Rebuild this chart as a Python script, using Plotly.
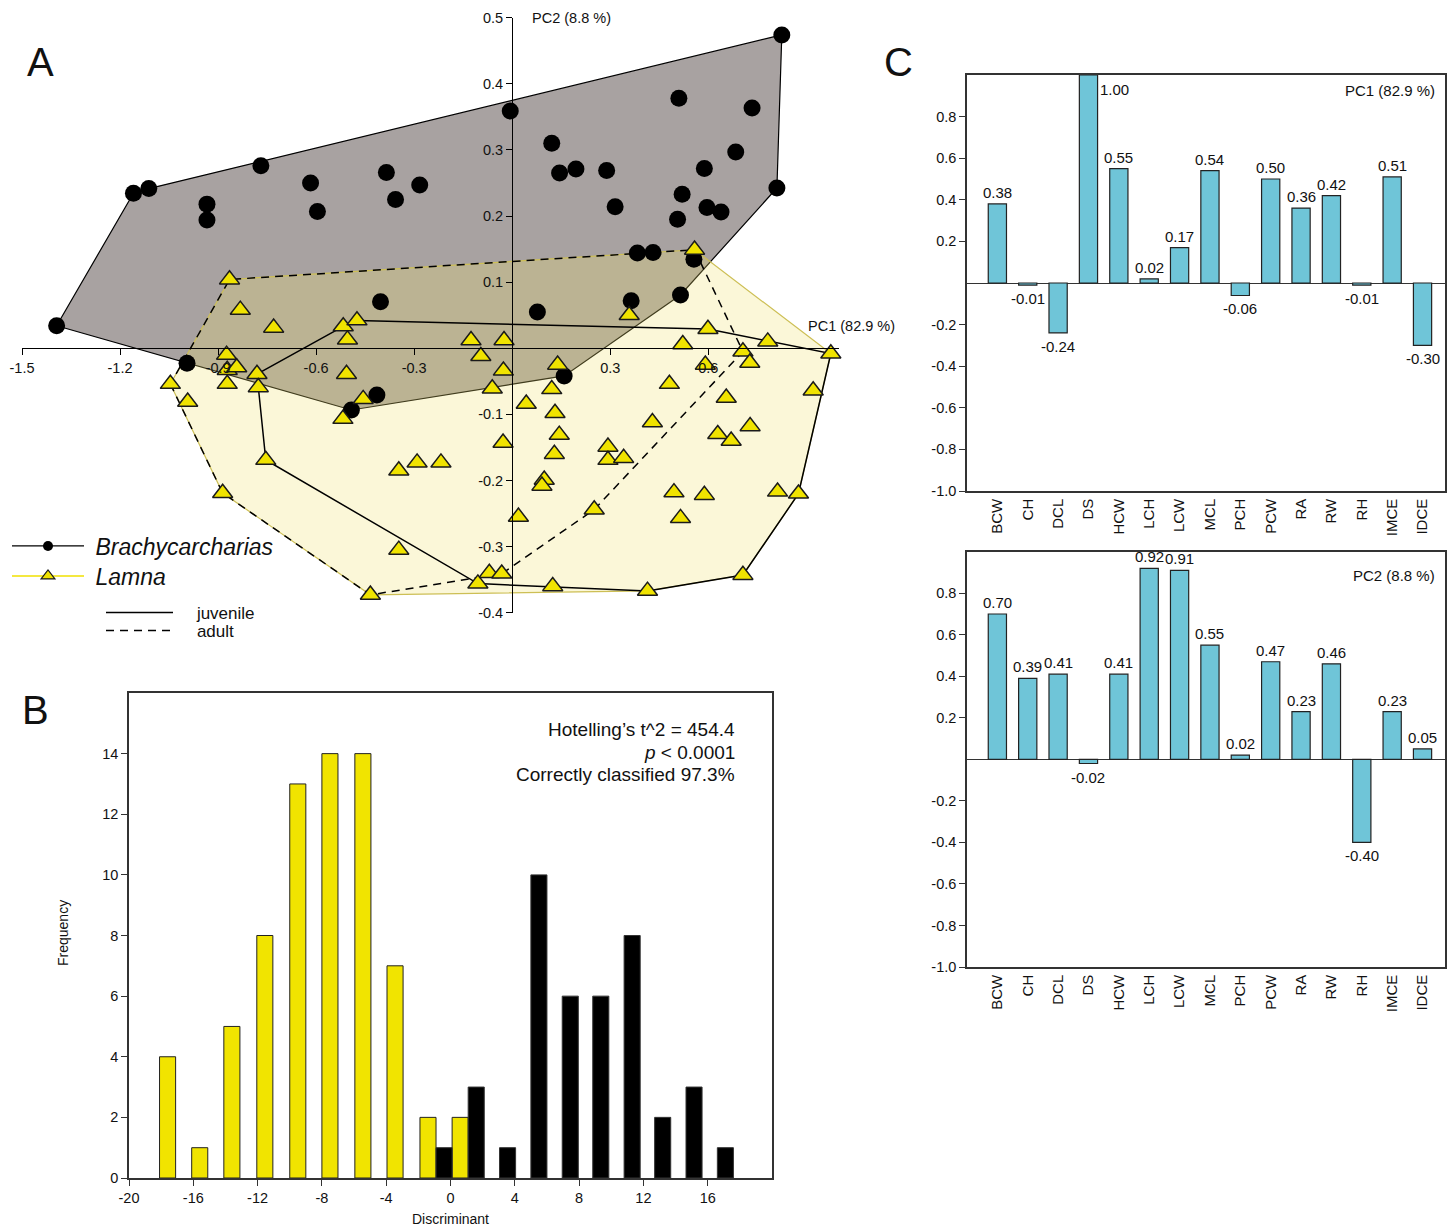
import plotly.graph_objects as go

FW, FH = 1453, 1228
FONT = "Liberation Sans, Arial, sans-serif"

# ---------------- Panel A : PCA scores ----------------
brachy_pc1 = [-1.394, -1.159, -1.112, -0.769, -0.934, -0.934, -0.617, -0.596, -0.385, -0.357,
              -0.283, -0.006, -0.403, 0.825, 0.510, 0.734, 0.121, 0.145, 0.195, 0.289,
              0.315, 0.684, 0.588, 0.520, 0.506, 0.596, 0.639, 0.810, 0.383, 0.431,
              0.556, 0.515, 0.364, 0.077, -0.995, -0.414, -0.492, 0.159]
brachy_pc2 = [0.034, 0.2345, 0.2415, 0.276, 0.218, 0.194, 0.250, 0.207, 0.266, 0.225,
              0.247, 0.359, 0.0705, 0.474, 0.378, 0.3635, 0.310, 0.265, 0.271, 0.269,
              0.214, 0.297, 0.272, 0.233, 0.195, 0.213, 0.206, 0.2425, 0.144, 0.145,
              0.1346, 0.0806, 0.072, 0.055, -0.0227, -0.0707, -0.0934, -0.0419]

lamna_pc1 = [-0.865, -0.832, -0.730, -0.517, -0.475, -0.504, -0.126, -0.096, -0.025, -0.027,
             -0.061, -1.046, -0.993, -0.874, -0.872, -0.843, -0.872, -0.781, -0.777, -0.507,
             -0.456, -0.518, -0.754, -0.347, -0.291, -0.218, -0.028, -0.886, -0.347, -0.434,
             -0.105, -0.070, -0.032, 0.019, 0.358, 0.558, 0.139, 0.121, 0.043, 0.131,
             0.144, 0.129, 0.098, 0.091, 0.124, 0.414, 0.706, 0.251, 0.293, 0.293,
             0.341, 0.429, 0.481, 0.522, 0.599, 0.591, 0.706, 0.727, 0.782, 0.975,
             0.921, 0.655, 0.629, 0.670, 0.728, 0.495, 0.588, 0.515, 0.812, 0.876]
lamna_pc2 = [0.104, 0.058, 0.031, 0.033, 0.042, 0.013, 0.012, -0.012, 0.012, -0.034,
             -0.061, -0.054, -0.081, -0.010, -0.033, -0.029, -0.054, -0.039, -0.059, -0.039,
             -0.077, -0.107, -0.169, -0.185, -0.173, -0.173, -0.143, -0.219, -0.305, -0.373,
             -0.356, -0.340, -0.341, -0.255, 0.050, 0.149, -0.025, -0.062, -0.084, -0.098,
             -0.131, -0.160, -0.199, -0.208, -0.360, -0.367, -0.343, -0.244, -0.149, -0.169,
             -0.166, -0.112, -0.054, 0.006, 0.029, -0.025, -0.005, -0.022, 0.010, -0.008,
             -0.064, -0.075, -0.130, -0.140, -0.118, -0.218, -0.222, -0.257, -0.217, -0.220]
lamna_stage = ["A", "A", "A", "J", "J", "A", "J", "A", "J", "A",
               "J", "A", "A", "A", "A", "A", "A", "J", "A", "J",
               "A", "J", "J", "A", "J", "A", "A", "A", "A", "A",
               "J", "A", "A", "J", "A", "A", "J", "A", "J", "A",
               "J", "A", "J", "A", "J", "J", "J", "A", "A", "J",
               "A", "J", "A", "A", "J", "J", "A", "J", "J", "J",
               "J", "J", "J", "J", "J", "J", "J", "J", "J", "J"]

pca_xticks = [-1.5, -1.2, -0.9, -0.6, -0.3, 0.3, 0.6]
pca_xticktext = ["-1.5", "-1.2", "-0.9", "-0.6", "-0.3", "0.3", "0.6"]
pca_yticks = [0.5, 0.4, 0.3, 0.2, 0.1, -0.1, -0.2, -0.3, -0.4]
pca_yticktext = ["0.5", "0.4", "0.3", "0.2", "0.1", "-0.1", "-0.2", "-0.3", "-0.4"]

# ---------------- Panel B : discriminant histogram ----------------
lamna_bin_centers = [-17.6, -15.6, -13.6, -11.55, -9.5, -7.5, -5.45, -3.45, -1.4, 0.6]
lamna_freq = [4, 1, 5, 8, 13, 14, 14, 7, 2, 2]
brachy_bin_centers = [-0.4, 1.6, 3.55, 5.5, 7.45, 9.35, 11.3, 13.2, 15.15, 17.1]
brachy_freq = [1, 3, 1, 10, 6, 6, 8, 2, 3, 1]
hist_xticks = [-20, -16, -12, -8, -4, 0, 4, 8, 12, 16]
hist_xticktext = ["-20", "-16", "-12", "-8", "-4", "0", "4", "8", "12", "16"]
hist_yticks = [0, 2, 4, 6, 8, 10, 12, 14]

# ---------------- Panel C : loadings ----------------
variables = ["BCW", "CH", "DCL", "DS", "HCW", "LCH", "LCW", "MCL", "PCH", "PCW",
             "RA", "RW", "RH", "IMCE", "IDCE"]
pc1_loadings = [0.38, -0.01, -0.24, 1.00, 0.55, 0.02, 0.17, 0.54, -0.06, 0.50,
                0.36, 0.42, -0.01, 0.51, -0.30]
pc2_loadings = [0.70, 0.39, 0.41, -0.02, 0.41, 0.92, 0.91, 0.55, 0.02, 0.47,
                0.23, 0.46, -0.40, 0.23, 0.05]
load_yticks = [0.8, 0.6, 0.4, 0.2, -0.2, -0.4, -0.6, -0.8, -1.0]
load_yticktext = ["0.8", "0.6", "0.4", "0.2", "-0.2", "-0.4", "-0.6", "-0.8", "-1.0"]


def hull(xs, ys):
    pts = sorted(set(zip(xs, ys)))

    def cross(o, a, b):
        return (a[0] - o[0]) * (b[1] - o[1]) - (a[1] - o[1]) * (b[0] - o[0])

    lower, upper = [], []
    for p in pts:
        while len(lower) >= 2 and cross(lower[-2], lower[-1], p) <= 0:
            lower.pop()
        lower.append(p)
    for p in reversed(pts):
        while len(upper) >= 2 and cross(upper[-2], upper[-1], p) <= 0:
            upper.pop()
        upper.append(p)
    h = lower[:-1] + upper[:-1]
    h.append(h[0])
    return [p[0] for p in h], [p[1] for p in h]


def clamp(v):
    return max(0.0, min(1.0, v))


def fx(p):
    return p / FW


def fy(p):
    return 1 - p / FH


A_X = [clamp(fx(22)), clamp(fx(839))]
A_Y = [clamp(fy(612.7)), clamp(fy(17.7))]
B_X = [clamp(fx(129)), clamp(fx(772))]
B_Y = [clamp(fy(1178)), clamp(fy(693))]
C_X = [clamp(fx(967)), clamp(fx(1445))]
C1_Y = [clamp(fy(491)), clamp(fy(75))]
C2_Y = [clamp(fy(967)), clamp(fy(551.7))]

A_XR = [-1.5, 1.0]
A_YR = [-0.4, 0.5]

fig = go.Figure()

bx, by = hull(brachy_pc1, brachy_pc2)
fig.add_trace(go.Scatter(x=bx, y=by, mode="lines", fill="toself", fillcolor="#a8a2a1",
                         line=dict(color="black", width=1.2), showlegend=False, hoverinfo="skip"))
lx, ly = hull(lamna_pc1, lamna_pc2)
fig.add_trace(go.Scatter(x=lx, y=ly, mode="lines", fill="toself", fillcolor="rgba(240,226,110,0.27)",
                         line=dict(color="#cdbf55", width=1.2), showlegend=False, hoverinfo="skip"))

juv_x = [x for x, s in zip(lamna_pc1, lamna_stage) if s == "J"]
juv_y = [y for y, s in zip(lamna_pc2, lamna_stage) if s == "J"]
adu_x = [x for x, s in zip(lamna_pc1, lamna_stage) if s == "A"]
adu_y = [y for y, s in zip(lamna_pc2, lamna_stage) if s == "A"]
jx, jy = hull(juv_x, juv_y)
ax_, ay_ = hull(adu_x, adu_y)
fig.add_trace(go.Scatter(x=jx, y=jy, mode="lines", line=dict(color="black", width=1.5),
                         name="&nbsp;&nbsp;&nbsp;&nbsp;juvenile", legend="legend3", hoverinfo="skip"))
fig.add_trace(go.Scatter(x=ax_, y=ay_, mode="lines", line=dict(color="black", width=1.5, dash="8px,6px"),
                         name="&nbsp;&nbsp;&nbsp;&nbsp;adult", legend="legend4", hoverinfo="skip"))

fig.add_trace(go.Scatter(x=brachy_pc1, y=brachy_pc2, mode="markers",
                         marker=dict(symbol="circle", size=17, color="black"),
                         showlegend=False, cliponaxis=False))
fig.add_trace(go.Scatter(x=lamna_pc1, y=lamna_pc2, mode="markers",
                         marker=dict(symbol="triangle-up", size=17.5, color="#f0e300",
                                     line=dict(color="#1a1a1a", width=1.5)),
                         showlegend=False, cliponaxis=False))

fig.add_trace(go.Scatter(x=[None], y=[None], mode="lines+markers", name="&nbsp;<i>Brachycarcharias</i>",
                         line=dict(color="black", width=1.2),
                         marker=dict(symbol="circle", size=10, color="black"), legend="legend"))
fig.add_trace(go.Scatter(x=[None], y=[None], mode="lines+markers", name="&nbsp;<i>Lamna</i>",
                         line=dict(color="#f0e000", width=1.4),
                         marker=dict(symbol="triangle-up", size=12, color="#f0e300",
                                     line=dict(color="#1a1a1a", width=1.2)), legend="legend2"))

# ---- Panel B bars
fig.add_trace(go.Bar(x=lamna_bin_centers, y=lamna_freq, width=1.0,
                     marker=dict(color="#f1e400", line=dict(color="#222222", width=1)),
                     xaxis="x2", yaxis="y2", showlegend=False))
fig.add_trace(go.Bar(x=brachy_bin_centers, y=brachy_freq, width=1.0,
                     marker=dict(color="black", line=dict(color="#333333", width=1)),
                     xaxis="x2", yaxis="y2", showlegend=False))

# ---- Panel C bars
for ax_id, vals in (("3", pc1_loadings), ("4", pc2_loadings)):
    fig.add_trace(go.Bar(x=variables, y=vals, width=0.6,
                         marker=dict(color="#6fc5d8", line=dict(color="#222222", width=1.2)),
                         xaxis="x" + ax_id, yaxis="y" + ax_id, showlegend=False))

annotations = []
for ax_id, vals in (("3", pc1_loadings), ("4", pc2_loadings)):
    for cat, v in zip(variables, vals):
        a = dict(x=cat, y=v, xref="x" + ax_id, yref="y" + ax_id, text=f"{v:.2f}", showarrow=False,
                 font=dict(size=15, family=FONT, color="#111"))
        if v >= 0.99:
            a.update(xanchor="left", yanchor="top", xshift=10, yshift=-4)
        elif v >= 0:
            a.update(xanchor="center", yanchor="bottom", yshift=1)
        else:
            a.update(xanchor="center", yanchor="top", yshift=-3)
        annotations.append(a)


def txt(text, x, y, size, xanchor="center", angle=0):
    return dict(text=text, x=fx(x), y=fy(y), xref="paper", yref="paper", showarrow=False,
                xanchor=xanchor, yanchor="middle", textangle=angle,
                font=dict(size=size, family=FONT, color="#111"))


annotations += [
    txt("A", 40, 62, 40), txt("B", 35, 710, 40), txt("C", 898, 62, 40),
    txt("PC2 (8.8 %)", 530, 18, 14.5, "left"),
    txt("PC1 (82.9 %)", 806, 326, 14.5, "left"),
    txt("Hotelling’s t^2 = 454.4", 737, 729, 19, "right"),
    txt("<i>p</i> &lt; 0.0001", 737, 752, 19, "right"),
    txt("Correctly classified 97.3%", 737, 775, 19, "right"),
    txt("Frequency", 63, 933, 14, "center", -90),
    txt("Discriminant", 450, 1219, 14),
    txt("PC1 (82.9 %)", 1437, 90, 15, "right"),
    txt("PC2 (8.8 %)", 1437, 575, 15, "right"),
]

tickfont = dict(size=14.5, family=FONT, color="#111")
cat_tickfont = dict(size=15, family=FONT, color="#111")
frame = dict(showline=True, mirror=True, linecolor="#333333", linewidth=1.5, showgrid=False,
             automargin=False)


def legend_at(line_start_x, center_y, size, itemwidth):
    return dict(x=(line_start_x - 5) / FW, y=fy(center_y), xanchor="left", yanchor="middle",
                bgcolor="rgba(0,0,0,0)", font=dict(size=size, family=FONT, color="#111"),
                itemwidth=itemwidth)


fig.update_layout(
    width=FW, height=FH, margin=dict(l=0, r=0, t=0, b=0, pad=0, autoexpand=False),
    paper_bgcolor="white", plot_bgcolor="rgba(0,0,0,0)", barmode="overlay",
    font=dict(family=FONT, color="#111"),
    xaxis=dict(domain=A_X, range=A_XR, anchor="free", automargin=False,
               position=A_Y[0] + (0 - A_YR[0]) / (A_YR[1] - A_YR[0]) * (A_Y[1] - A_Y[0]),
               showline=True, linecolor="black", linewidth=1.3, ticks="outside", ticklen=6,
               tickwidth=1.3, tickcolor="black", tickvals=pca_xticks, ticktext=pca_xticktext,
               showgrid=False, zeroline=False, tickfont=tickfont),
    yaxis=dict(domain=A_Y, range=A_YR, anchor="free", automargin=False,
               position=A_X[0] + (0 - A_XR[0]) / (A_XR[1] - A_XR[0]) * (A_X[1] - A_X[0]),
               showline=True, linecolor="black", linewidth=1.3, ticks="outside", ticklen=6,
               tickwidth=1.3, tickcolor="black", tickvals=pca_yticks, ticktext=pca_yticktext,
               showgrid=False, zeroline=False, tickfont=tickfont),
    xaxis2=dict(domain=B_X, anchor="y2", range=[-20, 20], ticks="outside", ticklen=6, tickcolor="#333",
                tickvals=hist_xticks, ticktext=hist_xticktext, zeroline=False, tickfont=tickfont, **frame),
    yaxis2=dict(domain=B_Y, anchor="x2", range=[0, 16], ticks="outside", ticklen=6, tickcolor="#333",
                tickvals=hist_yticks, zeroline=False, tickfont=tickfont, **frame),
    xaxis3=dict(domain=C_X, anchor="y3", type="category", range=[-1, 14.74], ticks="",
                tickangle=-90, categoryorder="array", categoryarray=variables, zeroline=False,
                tickfont=cat_tickfont, **frame),
    yaxis3=dict(domain=C1_Y, anchor="x3", range=[-1, 1], ticks="outside", ticklen=6, tickcolor="#333",
                tickvals=load_yticks, ticktext=load_yticktext, tickfont=tickfont, **frame,
                zeroline=True, zerolinecolor="#333333", zerolinewidth=1.2),
    xaxis4=dict(domain=C_X, anchor="y4", type="category", range=[-1, 14.74], ticks="",
                tickangle=-90, categoryorder="array", categoryarray=variables, zeroline=False,
                tickfont=cat_tickfont, **frame),
    yaxis4=dict(domain=C2_Y, anchor="x4", range=[-1, 1], ticks="outside", ticklen=6, tickcolor="#333",
                tickvals=load_yticks, ticktext=load_yticktext, tickfont=tickfont, **frame,
                zeroline=True, zerolinecolor="#333333", zerolinewidth=1.2),
    legend=legend_at(12, 546, 23, 72),
    legend2=legend_at(12, 576, 23, 72),
    legend3=legend_at(106, 613, 17, 67),
    legend4=legend_at(106, 631, 17, 67),
    annotations=annotations,
    showlegend=True,
)

fig.write_html("out.html", config={"displayModeBar": False},
               post_script="document.body.style.margin='0';document.body.style.overflow='hidden';")
